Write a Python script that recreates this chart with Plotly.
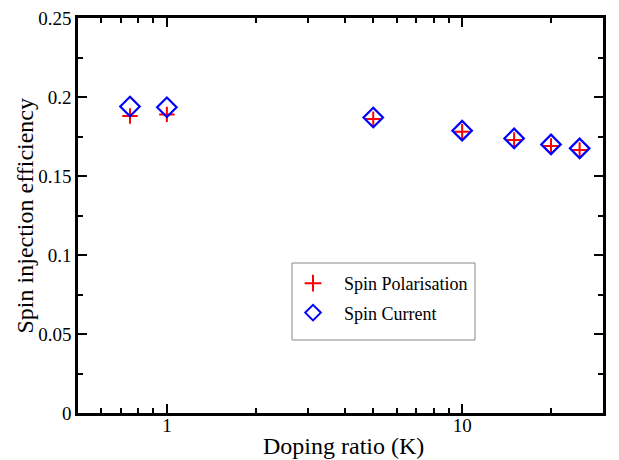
import plotly.graph_objects as go

doping = [0.75, 1, 5, 10, 15, 20, 25]
spin_polarisation = [0.188, 0.189, 0.186, 0.178, 0.1728, 0.169, 0.1665]
spin_current = [0.194, 0.1935, 0.187, 0.1787, 0.1738, 0.170, 0.1675]

x_major = [1, 10]
x_minor = [0.6, 0.7, 0.8, 0.9, 2, 3, 4, 5, 6, 7, 8, 9, 20, 30]
y_major = [0, 0.05, 0.1, 0.15, 0.2, 0.25]
y_labels = ["0", "0.05", "0.1", "0.15", "0.2", "0.25"]
y_minor = [0.025, 0.075, 0.125, 0.175, 0.225]

font = "Liberation Serif, Times New Roman, serif"

fig = go.Figure()
fig.add_trace(go.Scatter(
    x=doping, y=spin_polarisation, mode="markers", name="Spin Polarisation",
    legendgroup="a",
    marker=dict(symbol="cross-thin-open", size=11, color="red",
                line=dict(color="red", width=2))))
fig.add_trace(go.Scatter(
    x=doping, y=spin_current, mode="markers", name="Spin Current",
    legendgroup="b",
    marker=dict(symbol="diamond-open", size=15, color="blue",
                line=dict(color="blue", width=2.2))))

axis_common = dict(showline=True, linecolor="black", linewidth=2.5, mirror="ticks",
                   ticks="inside", ticklen=9, tickwidth=1.5, tickcolor="black",
                   showgrid=False, zeroline=False, automargin=False,
                   tickfont=dict(family=font, size=19, color="black"))

fig.update_layout(
    width=619, height=460,
    margin=dict(l=78, r=16, t=18, b=47),
    paper_bgcolor="white", plot_bgcolor="white",
    font=dict(family=font, color="black"),
    showlegend=True,
    legend=dict(x=0.3886, y=0.3747, xanchor="left", yanchor="top",
                bgcolor="rgba(0,0,0,0)", borderwidth=0,
                font=dict(family=font, size=18, color="black"),
                itemsizing="constant", itemwidth=52,
                traceorder="grouped", tracegroupgap=3),
    xaxis=dict(type="log", range=[-0.30103, 1.4771],
               tickvals=x_major, ticktext=["1", "10"], ticklabelstandoff=-7,
               minor=dict(tickvals=x_minor, ticks="inside", ticklen=5, tickwidth=1.5, tickcolor="black"),
               **axis_common),
    yaxis=dict(range=[0, 0.25], tickvals=y_major, ticktext=y_labels,
               minor=dict(tickvals=y_minor, ticks="inside", ticklen=5, tickwidth=1.5, tickcolor="black"),
               **axis_common),
    shapes=[dict(type="rect", xref="paper", yref="paper",
                 x0=0.4076, x1=0.7562, y0=0.1848, y1=0.3797,
                 line=dict(color="#888888", width=1), fillcolor="white", layer="below")],
    annotations=[
        dict(text="Spin injection efficiency", xref="paper", yref="paper",
             x=-0.101, y=0.5, xanchor="center", yanchor="middle", textangle=-90,
             showarrow=False, font=dict(family=font, size=24, color="black")),
        dict(text="Doping ratio (K)", xref="paper", yref="paper",
             x=0.505, y=-0.0835, xanchor="center", yanchor="middle",
             showarrow=False, font=dict(family=font, size=24, color="black")),
    ],
)

fig.write_html("out.html")
